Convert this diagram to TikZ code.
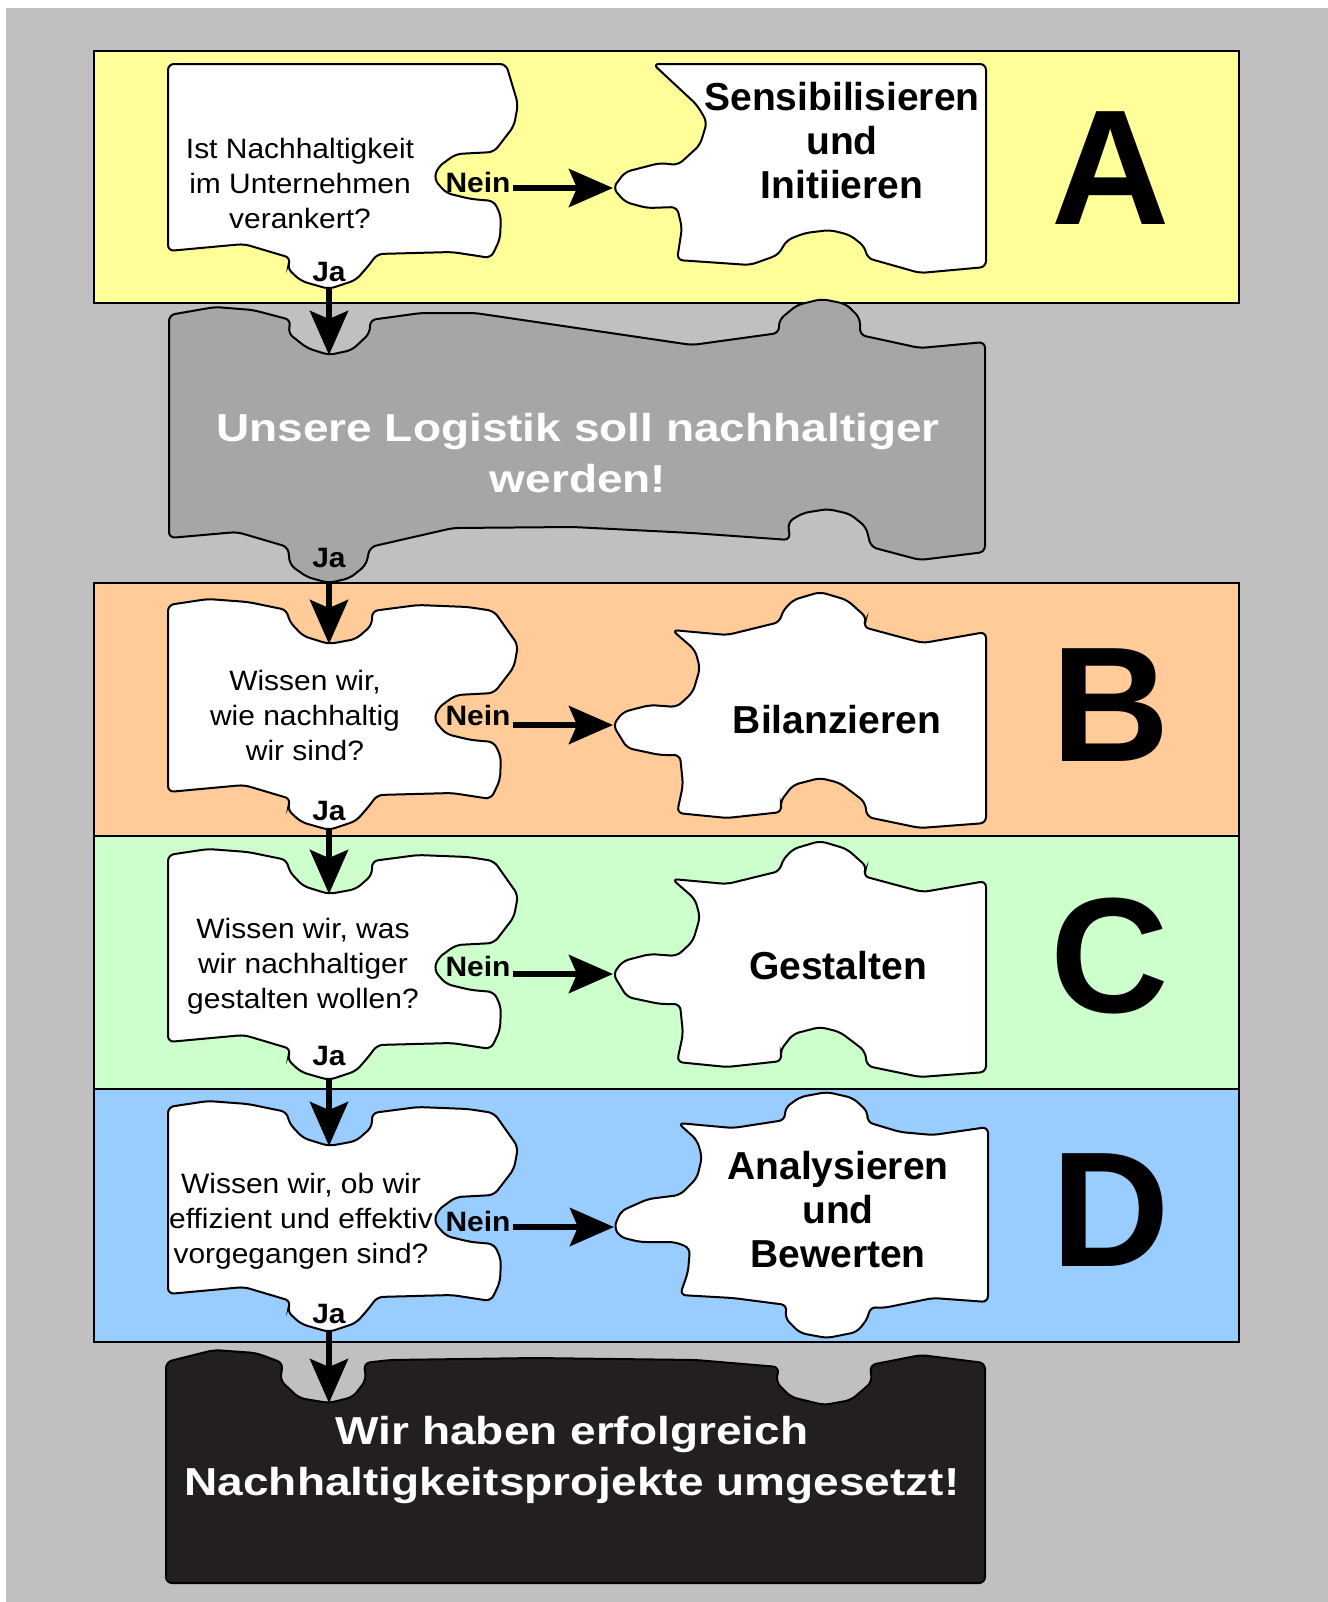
\documentclass[tikz,border=0pt]{standalone}
\usepackage{fontspec}
\setmainfont{Liberation Sans}
\newfontfamily\widesans[FakeStretch=1.07]{Liberation Sans}
\newfontfamily\boldwide[FakeStretch=1.18]{Liberation Sans}
\usetikzlibrary{arrows.meta}

\definecolor{bggray}{HTML}{C0C0C0}
\definecolor{phaseA}{HTML}{FFFF99}
\definecolor{phaseB}{HTML}{FFCC99}
\definecolor{phaseC}{HTML}{CCFFCC}
\definecolor{phaseD}{HTML}{99CCFF}
\definecolor{goalgray}{HTML}{A6A6A6}
\definecolor{goalblack}{HTML}{231F20}

% top edge of a question piece with the blank for the arrow
\newcommand\notchtop{-- (40,-6) -- (80,-3) -- (119,5) -- (121,16) -- (135,31) -- (161,39)
  -- (188,34) -- (204,20) -- (204,6) -- (250,0) -- (300,2) -- (326,6)}

\tikzset{
  piece/.style={draw=black, line width=1pt, rounded corners=3pt, fill=white},
  band/.style={draw=black, line width=1.2pt},
  arrow/.style={-{Stealth[length=22pt, width=19pt, inset=4pt]}, line width=3pt},
  qtext/.style={font=\widesans\fontsize{14}{17.5}\selectfont, align=center},
  answer/.style={font=\widesans\bfseries\fontsize{14}{15}\selectfont, inner sep=1pt},
  atext/.style={font=\bfseries\fontsize{19.5}{22}\selectfont, align=center},
  stmt/.style={font=\boldwide\bfseries\fontsize{19.5}{25.5}\selectfont, align=center, text=white},
  phase/.style={font=\bfseries\fontsize{82}{82}\selectfont},
  pics/question/.style={code={
    \draw[piece] (0,0) #1 -- (350,40) -- (346,62) -- (326,88) -- (288,90) -- (270,103)
      -- (266,115) -- (278,129) -- (303,135) -- (326,137) -- (333,152) -- (332,175)
      -- (323,194) -- (284,188) -- (209,190) -- (202,200) -- (188,216) -- (161,225)
      -- (133,217) -- (119,204) -- (123,194) -- (76,180) -- (0,187) -- cycle;
    \coordinate (-notch) at (161,39);
    \coordinate (-tab) at (161,225);
  }},
  pics/action/.style={code={
    \draw[piece] (0,0) -- (55,5) -- (108,-8) -- (110,-18) -- (121,-30) -- (148,-38)
      -- (175,-30) -- (195,-12) -- (191,-3) -- (228,7) -- (251,13) -- (314,2)
      -- (314,193) -- (248,198) -- (195,187) -- (193,172) -- (168,153) -- (148,148)
      -- (121,155) -- (108,172) -- (110,182) -- (55,188) -- (5,183) -- (11,155)
      -- (8,125) -- (-12,125) -- (-45,118) -- (-59,95) -- (-49,82) -- (-22,75)
      -- (5,77) -- (21,62) -- (28,38) -- (23,20) -- cycle;
    \coordinate (-tip) at (-59,95);
  }},
}

\begin{document}
\begin{tikzpicture}[x=0.5pt, y=-0.5pt]
    \useasboundingbox (0,0) rectangle (1328,1602);
    \fill[white] (0,0) rectangle (1328,1602);
    \fill[bggray] (6,8) rectangle (1328,1602);

    % phases
    \draw[band, fill=phaseA] (94,51) rectangle (1239,303);
    \draw[band, fill=phaseB] (94,583) rectangle (1239,836);
    \draw[band, fill=phaseC] (94,836) rectangle (1239,1089);
    \draw[band, fill=phaseD] (94,1089) rectangle (1239,1342);

    % question pieces
    \pic (qpA) at (168,64) {question={-- (338,0)}};
    \pic (qpB) at (168,605) {question=\notchtop};
    \pic (qpC) at (168,855) {question=\notchtop};
    \pic (qpD) at (168,1107) {question=\notchtop};

    % action pieces
    \draw[piece] (653,64) -- (986,64) -- (986,267) -- (920,273) -- (867,258) -- (865,247)
        -- (850,235) -- (830,230) -- (805,233) -- (787,240) -- (778,255) -- (750,265)
        -- (677,260) -- (682,228) -- (677,207) -- (647,208) -- (625,202) -- (613,188)
        -- (625,172) -- (660,163) -- (678,165) -- (700,145) -- (707,122) -- (697,105) -- cycle;
    \coordinate (apA-tip) at (613,188);
    \pic (apB) at (672,630) {action};
    \pic (apC) at (672,879) {action};
    \draw[piece, shift={(678,1123)}] (0,0) -- (55,5) -- (107,-3) -- (107,-15) -- (122,-26)
        -- (149,-31) -- (175,-25) -- (190,-11) -- (189,-1) -- (222,9) -- (255,12) -- (310,4)
        -- (310,179) -- (255,175) -- (205,185) -- (192,184) -- (190,195) -- (179,209)
        -- (149,215) -- (122,210) -- (107,195) -- (109,182) -- (55,175) -- (2,172)
        -- (10,149) -- (12,125) -- (-3,119) -- (-38,119) -- (-58,114) -- (-64,104)
        -- (-57,88) -- (-30,76) -- (2,72) -- (19,55) -- (24,34) -- (19,17) -- cycle;
    \coordinate (apD-tip) at (614,1227);

    % goal pieces
    \draw[piece, fill=goalgray] (169,315) -- (215,307) -- (253,310) -- (291,320) -- (288,333)
        -- (307,348) -- (329,355) -- (352,350) -- (370,333) -- (370,320) -- (421,313)
        -- (475,313) -- (692,345) -- (779,333) -- (779,320) -- (797,305) -- (822,299)
        -- (846,304) -- (860,318) -- (860,335) -- (920,348) -- (985,342) -- (985,552)
        -- (920,560) -- (871,547) -- (866,527) -- (850,514) -- (828,509) -- (803,513)
        -- (788,522) -- (790,540) -- (692,533) -- (573,527) -- (453,528) -- (370,547)
        -- (366,565) -- (350,578) -- (329,583) -- (307,577) -- (290,565) -- (288,547)
        -- (237,532) -- (169,538) -- cycle;
    \coordinate (gNotch) at (329,355);
    \coordinate (gTab) at (329,583);
    \draw[piece, fill=goalblack] (166,1362) -- (214,1350) -- (256,1353) -- (283,1363)
        -- (280,1380) -- (299,1398) -- (329,1403) -- (353,1397) -- (366,1380) -- (364,1363)
        -- (390,1360) -- (535,1358) -- (696,1360) -- (779,1367) -- (776,1382) -- (791,1397)
        -- (824,1405) -- (851,1400) -- (872,1382) -- (870,1365) -- (921,1355) -- (985,1363)
        -- (985,1583) -- (166,1583) -- cycle;
    \coordinate (kNotch) at (329,1403);

    % texts
    \node[qtext] (qA) at (300,183) {Ist Nachhaltigkeit\\im Unternehmen\\verankert?};
    \node[qtext] (qB) at (305,715) {Wissen wir,\\wie nachhaltig\\wir sind?};
    \node[qtext] (qC) at (303,966) {Wissen wir, was\\wir nachhaltiger\\gestalten wollen?};
    \node[qtext] (qD) at (301,1221) {Wissen wir, ob wir\\effizient und effektiv\\vorgegangen sind?};

    \node[answer] (nA) at (478,182) {Nein};
    \node[answer] (nB) at (478,715) {Nein};
    \node[answer] (nC) at (478,966) {Nein};
    \node[answer] (nD) at (478,1221) {Nein};

    \node[answer] (jA) at (329,272) {Ja};
    \node[answer] (jG) at (329,558) {Ja};
    \node[answer] (jB) at (329,811) {Ja};
    \node[answer] (jC) at (329,1056) {Ja};
    \node[answer] (jD) at (329,1314) {Ja};

    \node[atext] (aA) at (842,141) {Sensibilisieren\\und\\Initiieren};
    \node[atext] (aB) at (837,720) {Bilanzieren};
    \node[atext] (aC) at (838,966) {Gestalten};
    \node[atext] (aD) at (838,1210) {Analysieren\\und\\Bewerten};

    \node[stmt] (goal1) at (578,453) {Unsere Logistik soll nachhaltiger\\werden!};
    \node[stmt] (goal2) at (572,1460) {Wir haben erfolgreich\\Nachhaltigkeitsprojekte umgesetzt!};

    \node[phase] (pA) at (1111,168) {A};
    \node[phase] (pB) at (1111,705) {B};
    \node[phase] (pC) at (1110,956) {C};
    \node[phase] (pD) at (1111,1210) {D};

    % connectors
    \draw[arrow] (qpA-tab) -- (gNotch);
    \draw[arrow] (gTab) -- (qpB-notch);
    \draw[arrow] (qpB-tab) -- (qpC-notch);
    \draw[arrow] (qpC-tab) -- (qpD-notch);
    \draw[arrow] (qpD-tab) -- (kNotch);
    \foreach \p in {A,B,C,D}
        \draw[arrow] (n\p.east |- ap\p-tip) -- (ap\p-tip);
\end{tikzpicture}
\end{document}
